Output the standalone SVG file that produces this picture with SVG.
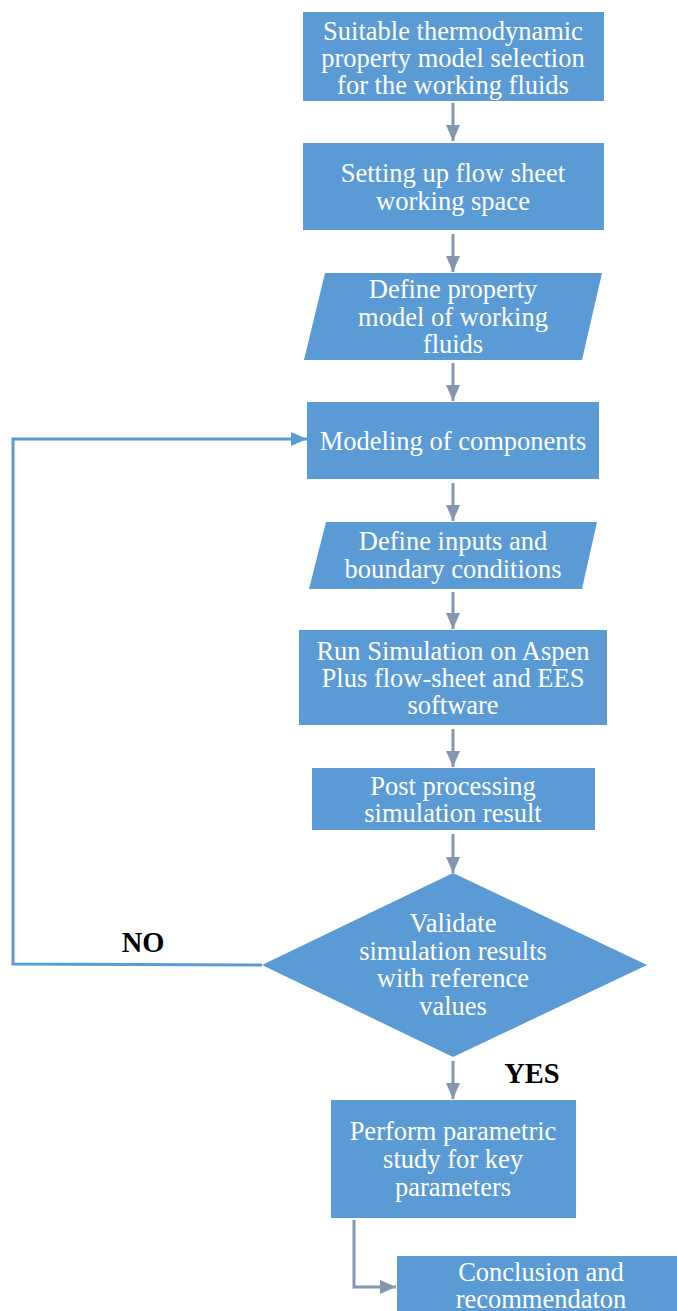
<svg xmlns="http://www.w3.org/2000/svg" width="677" height="1311" viewBox="0 0 677 1311">
<defs>
<style>
.n{fill:#5b9bd5}
.t{font-family:"Liberation Serif","Times New Roman",serif;font-size:26.5px;fill:#fff;text-anchor:middle}
.b{font-family:"Liberation Serif","Times New Roman",serif;font-size:28.5px;font-weight:bold;fill:#000;text-anchor:middle}
.a{stroke:#8497b0;stroke-width:3;fill:none}
.l{stroke:#5b9bd5;stroke-width:3;fill:none}
</style>
<marker id="ag" markerUnits="userSpaceOnUse" markerWidth="16" markerHeight="14" refX="16" refY="7" orient="auto"><path d="M0,0 L16,7 L0,14 Z" fill="#8497b0"/></marker>
<marker id="ab" markerUnits="userSpaceOnUse" markerWidth="16" markerHeight="14" refX="16" refY="7" orient="auto"><path d="M0,0 L16,7 L0,14 Z" fill="#5b9bd5"/></marker>
</defs>
<g id="connectors">
<line class="a" x1="453" y1="103" x2="453" y2="141" marker-end="url(#ag)"/>
<line class="a" x1="453" y1="234" x2="453" y2="272" marker-end="url(#ag)"/>
<line class="a" x1="453" y1="363" x2="453" y2="401" marker-end="url(#ag)"/>
<line class="a" x1="453" y1="483" x2="453" y2="521" marker-end="url(#ag)"/>
<line class="a" x1="453" y1="592" x2="453" y2="629" marker-end="url(#ag)"/>
<line class="a" x1="453" y1="729" x2="453" y2="767" marker-end="url(#ag)"/>
<line class="a" x1="453" y1="834" x2="453" y2="873" marker-end="url(#ag)"/>
<line class="a" x1="453" y1="1061" x2="453" y2="1099" marker-end="url(#ag)"/>
<polyline class="a" points="354,1220 354,1287 396,1287" marker-end="url(#ag)"/>
<polyline class="l" points="262,965 13,964 13,439 307,439" marker-end="url(#ab)"/>
<text class="b" x="143" y="952">NO</text>
<text class="b" x="532" y="1083">YES</text>
</g>
<g id="n1"><rect class="n" x="303" y="12" width="301" height="89"/>
<text class="t" x="453" y="40">Suitable thermodynamic</text>
<text class="t" x="453" y="67">property model selection</text>
<text class="t" x="453" y="94">for the working fluids</text></g>
<g id="n2"><rect class="n" x="303" y="143" width="301" height="87"/>
<text class="t" x="453" y="182">Setting up flow sheet</text>
<text class="t" x="453" y="210">working space</text></g>
<g id="n3"><polygon class="n" points="325,273 602,273 582,360 304,360"/>
<text class="t" x="453" y="298">Define property</text>
<text class="t" x="453" y="326">model of working</text>
<text class="t" x="453" y="353">fluids</text></g>
<g id="n4"><rect class="n" x="307" y="402" width="292" height="77"/>
<text class="t" x="453" y="450">Modeling of components</text></g>
<g id="n5"><polygon class="n" points="326,522 597,522 582,589 309,589"/>
<text class="t" x="453" y="550">Define inputs and</text>
<text class="t" x="453" y="578">boundary conditions</text></g>
<g id="n6"><rect class="n" x="299" y="630" width="308" height="95"/>
<text class="t" x="453" y="660">Run Simulation on Aspen</text>
<text class="t" x="453" y="687">Plus flow-sheet and EES</text>
<text class="t" x="453" y="714">software</text></g>
<g id="n7"><rect class="n" x="312" y="768" width="283" height="62"/>
<text class="t" x="453" y="795">Post processing</text>
<text class="t" x="453" y="822">simulation result</text></g>
<g id="n8"><polygon class="n" points="453,873 647,965 453,1057 262,965"/>
<text class="t" x="453" y="932">Validate</text>
<text class="t" x="453" y="960">simulation results</text>
<text class="t" x="453" y="987">with reference</text>
<text class="t" x="453" y="1015">values</text></g>
<g id="n9"><rect class="n" x="331" y="1100" width="245" height="118"/>
<text class="t" x="453" y="1140">Perform parametric</text>
<text class="t" x="453" y="1168">study for key</text>
<text class="t" x="453" y="1196">parameters</text></g>
<g id="n10"><rect class="n" x="397" y="1256" width="280" height="55"/>
<text class="t" x="541" y="1281">Conclusion and</text>
<text class="t" x="541" y="1308">recommendaton</text></g>
</svg>
